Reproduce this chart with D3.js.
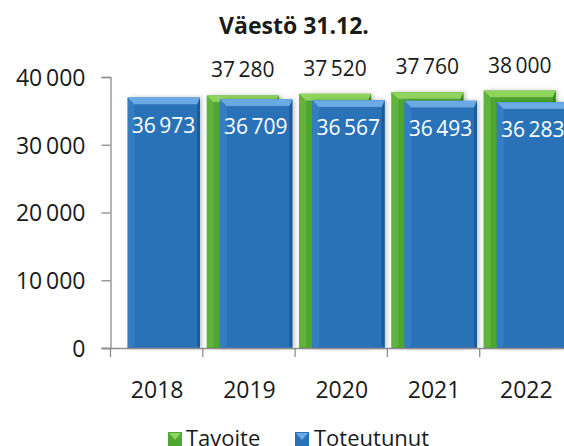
<!DOCTYPE html>
<html>
<head>
<meta charset="utf-8">
<script src="https://cdn.jsdelivr.net/npm/d3@7"></script>
<style>
  html, body { margin: 0; padding: 0; background: #fff; overflow: hidden; }
  #chart { width: 564px; height: 446px; }
</style>
</head>
<body>
<div id="chart"></div>
<script>
(function () {
  'use strict';

  var years = ['2018', '2019', '2020', '2021', '2022'];
  var tavoite = [null, 37280, 37520, 37760, 38000];
  var toteutunut = [36973, 36709, 36567, 36493, 36283];
  var yTicks = [0, 10000, 20000, 30000, 40000];
  var seriesNames = ['Tavoite', 'Toteutunut'];

  var width = 564;
  var height = 446;
  var font = '"Open Sans", "Noto Sans", sans-serif';

  var fmt = function (v) {
    return d3.format(',')(v).replace(/,/g, '\u2009');
  };

  var svg = d3.select('#chart').append('svg')
    .attr('width', width)
    .attr('height', height);

  var defs = svg.append('defs');
  var shadow = defs.append('filter').attr('id', 'barShadow')
    .attr('x', '-20%').attr('y', '-10%').attr('width', '140%').attr('height', '120%');
  shadow.append('feDropShadow')
    .attr('dx', 2).attr('dy', 0)
    .attr('stdDeviation', 2)
    .attr('flood-color', '#000')
    .attr('flood-opacity', 0.22);

  var x = d3.scaleBand().domain(years).range([110.5, 572]).paddingInner(0).paddingOuter(0);
  var y = d3.scaleLinear().domain([0, 40000]).range([348, 77]);

  // axes
  var yAxis = svg.append('g').attr('transform', 'translate(110.5,0)')
    .call(d3.axisLeft(y).tickValues(yTicks).tickSize(9).tickPadding(16).tickFormat(fmt));
  yAxis.select('.domain').attr('stroke', '#8c8c8c').attr('stroke-width', 1.3);
  yAxis.selectAll('.tick line').attr('stroke', '#8c8c8c').attr('stroke-width', 1.3);
  yAxis.selectAll('.tick text')
    .attr('font-family', font).attr('font-size', '23px').attr('fill', '#1a1a1a')
    .attr('dy', '0.36em');

  // bars
  var palette = {
    Tavoite: { body: '#4ea72f', light: '#8fd45c', mid: '#6cbf45', dark: '#3a8a22' },
    Toteutunut: { body: '#2a72b8', light: '#6aabe6', mid: '#3d87cc', dark: '#1d5a98' }
  };

  function bevelBar(g, x0, w, v, name) {
    var c = palette[name];
    var y0 = y(v);
    var y1 = y(0);
    var b = 7;
    var bar = g.append('g').attr('filter', 'url(#barShadow)');
    bar.append('rect')
      .attr('x', x0).attr('y', y0).attr('width', w).attr('height', y1 - y0)
      .attr('fill', c.body);
    bar.append('path')
      .attr('d', 'M' + x0 + ',' + y0 + 'L' + (x0 + b) + ',' + (y0 + b) + 'L' + (x0 + b) + ',' + (y1 - 2) + 'L' + x0 + ',' + y1 + 'Z')
      .attr('fill', c.mid).attr('opacity', 0.55);
    bar.append('path')
      .attr('d', 'M' + (x0 + w) + ',' + y0 + 'L' + (x0 + w - 3) + ',' + (y0 + b) + 'L' + (x0 + w - 3) + ',' + (y1 - 2) + 'L' + (x0 + w) + ',' + y1 + 'Z')
      .attr('fill', c.dark);
    bar.append('path')
      .attr('d', 'M' + x0 + ',' + y0 + 'L' + (x0 + w) + ',' + y0 + 'L' + (x0 + w - 3) + ',' + (y0 + b) + 'L' + (x0 + b) + ',' + (y0 + b) + 'Z')
      .attr('fill', c.light);
    bar.append('line')
      .attr('x1', x0 + b).attr('x2', x0 + w - 3)
      .attr('y1', y0 + b).attr('y2', y0 + b)
      .attr('stroke', c.dark).attr('stroke-opacity', 0.35).attr('stroke-width', 1);
  }

  var gBars = svg.append('g');
  var bw = x.bandwidth();
  years.forEach(function (yr, i) {
    var start = x(yr);
    if (tavoite[i] != null) {
      bevelBar(gBars, start + 0.043 * bw, 0.78 * bw, tavoite[i], 'Tavoite');
    }
    bevelBar(gBars, start + 0.185 * bw, 0.785 * bw, toteutunut[i], 'Toteutunut');
  });

  // x axis
  svg.append('line')
    .attr('x1', 102).attr('x2', width)
    .attr('y1', y(0) + 0.5).attr('y2', y(0) + 0.5)
    .attr('stroke', '#8c8c8c').attr('stroke-width', 1.3);
  years.forEach(function (yr) {
    svg.append('line')
      .attr('x1', x(yr)).attr('x2', x(yr))
      .attr('y1', y(0)).attr('y2', y(0) + 9)
      .attr('stroke', '#8c8c8c').attr('stroke-width', 1.3);
    svg.append('text')
      .attr('x', x(yr) + bw / 2 + 0.5)
      .attr('y', 398)
      .attr('text-anchor', 'middle')
      .attr('font-family', font).attr('font-size', '23px').attr('fill', '#1a1a1a')
      .text(yr);
  });

  // data labels
  var labels = svg.append('g')
    .attr('font-family', font).attr('text-anchor', 'middle');
  years.forEach(function (yr, i) {
    var start = x(yr);
    if (tavoite[i] != null) {
      labels.append('text')
        .attr('x', start + 0.043 * bw + 0.39 * bw)
        .attr('y', y(tavoite[i]) - 18)
        .attr('font-size', '21px').attr('fill', '#1a1a1a')
        .text(fmt(tavoite[i]));
    }
    labels.append('text')
      .attr('x', start + 0.185 * bw + 0.39 * bw)
      .attr('y', y(toteutunut[i]) + 35)
      .attr('font-size', '21px').attr('fill', '#fff')
      .text(fmt(toteutunut[i]));
  });

  // title
  svg.append('text')
    .attr('x', 294).attr('y', 34)
    .attr('text-anchor', 'middle')
    .attr('font-family', font).attr('font-size', '23px').attr('font-weight', 'bold')
    .attr('fill', '#1a1a1a')
    .text('Väestö 31.12.');

  // legend
  var legendPos = [{ sx: 168, tx: 186 }, { sx: 295, tx: 314 }];
  seriesNames.forEach(function (name, i) {
    var c = palette[name];
    var lp = legendPos[i];
    var lg = svg.append('g');
    lg.append('rect')
      .attr('x', lp.sx).attr('y', 432).attr('width', 14).attr('height', 14)
      .attr('fill', c.body);
    lg.append('path')
      .attr('d', 'M' + (lp.sx + 1) + ',433L' + (lp.sx + 13) + ',433L' + (lp.sx + 7) + ',440Z')
      .attr('fill', c.light);
    lg.append('text')
      .attr('x', lp.tx).attr('y', 446)
      .attr('font-family', font).attr('font-size', '22px').attr('fill', '#1a1a1a')
      .text(name);
  });
})();
</script>
</body>
</html>
